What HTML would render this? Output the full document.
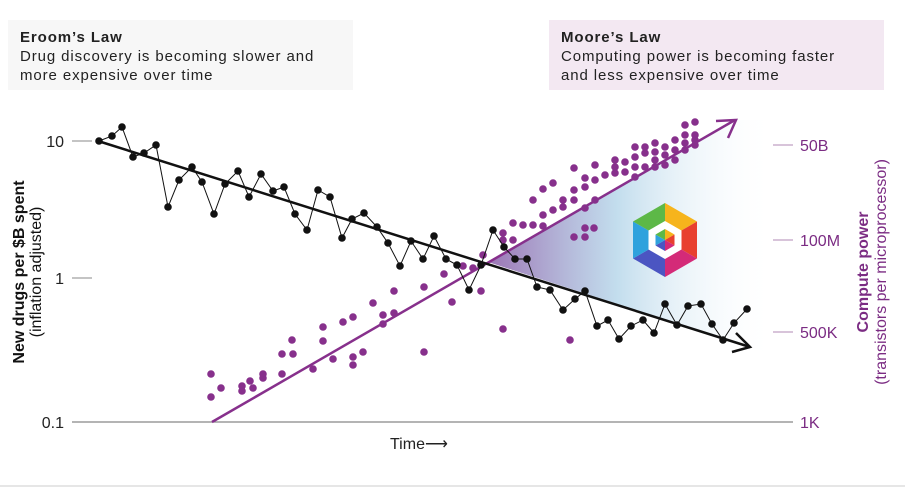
<!DOCTYPE html>
<html><head><meta charset="utf-8"><style>
body{margin:0;background:#fff;width:905px;height:487px;overflow:hidden;font-family:"Liberation Sans",sans-serif}
.box{position:absolute;top:20px;height:70px;box-sizing:border-box;padding:8px 12px;font-family:"Liberation Sans",sans-serif;font-size:15px;letter-spacing:0.9px;line-height:19px;color:#222}
.box b{display:block}
</style></head><body>
<div class="box" style="left:8px;width:345px;background:#f7f7f7"><b>Eroom’s Law</b>Drug discovery is becoming slower and<br>more expensive over time</div>
<div class="box" style="left:549px;width:335px;background:#f3e8f2"><b>Moore’s Law</b>Computing power is becoming faster<br>and less expensive over time</div>
<svg width="905" height="487" style="position:absolute;left:0;top:0" xmlns="http://www.w3.org/2000/svg">
<defs><linearGradient id="g" x1="488" y1="0" x2="775" y2="0" gradientUnits="userSpaceOnUse">
<stop offset="0" stop-color="#8a5ca8" stop-opacity="0.85"/><stop offset="0.45" stop-color="#a9cfe6" stop-opacity="0.7"/><stop offset="1" stop-color="#ffffff" stop-opacity="0"/></linearGradient></defs>
<polygon points="488,262 735,120 790,120 790,360 750,347" fill="url(#g)"/>
<line x1="72" y1="422" x2="793" y2="422" stroke="#888" stroke-width="1.2"/>
<g stroke="#888" stroke-width="1"><line x1="72" y1="141" x2="92" y2="141"/><line x1="72" y1="278" x2="92" y2="278"/></g>
<g stroke="#b08ab5" stroke-width="1"><line x1="773" y1="145" x2="793" y2="145"/><line x1="773" y1="240" x2="793" y2="240"/><line x1="773" y1="332" x2="793" y2="332"/></g>
<g font-size="16" fill="#222" text-anchor="end"><text x="64" y="147">10</text><text x="64" y="284">1</text><text x="64" y="428">0.1</text></g>
<g font-size="16" fill="#7b2c83"><text x="800" y="151">50B</text><text x="800" y="246">100M</text><text x="800" y="338">500K</text><text x="800" y="428">1K</text></g>
<text x="390" y="449" font-size="16" fill="#222">Time⟶</text>
<text transform="translate(24,272) rotate(-90)" text-anchor="middle" font-size="16" font-weight="bold" fill="#111">New drugs per $B spent</text>
<text transform="translate(41,272) rotate(-90)" text-anchor="middle" font-size="16" fill="#111">(inflation adjusted)</text>
<text transform="translate(868,272) rotate(-90)" text-anchor="middle" font-size="16" font-weight="bold" fill="#7b2c83">Compute power</text>
<text transform="translate(886,272) rotate(-90)" text-anchor="middle" font-size="16" fill="#7b2c83">(transistors per microprocessor)</text>
<g fill="#87308c">
<circle cx="211" cy="374" r="3.8"/><circle cx="211" cy="397" r="3.8"/><circle cx="221" cy="388" r="3.8"/><circle cx="242" cy="386" r="3.8"/><circle cx="242" cy="391" r="3.8"/><circle cx="250" cy="381" r="3.8"/><circle cx="253" cy="388" r="3.8"/><circle cx="263" cy="374" r="3.8"/><circle cx="263" cy="378" r="3.8"/><circle cx="282" cy="374" r="3.8"/><circle cx="282" cy="354" r="3.8"/><circle cx="292" cy="340" r="3.8"/><circle cx="293" cy="354" r="3.8"/><circle cx="313" cy="369" r="3.8"/><circle cx="323" cy="327" r="3.8"/><circle cx="323" cy="341" r="3.8"/><circle cx="333" cy="359" r="3.8"/><circle cx="343" cy="322" r="3.8"/><circle cx="353" cy="317" r="3.8"/><circle cx="353" cy="357" r="3.8"/><circle cx="353" cy="365" r="3.8"/><circle cx="363" cy="352" r="3.8"/><circle cx="373" cy="303" r="3.8"/><circle cx="383" cy="315" r="3.8"/><circle cx="383" cy="324" r="3.8"/><circle cx="394" cy="291" r="3.8"/><circle cx="394" cy="313" r="3.8"/><circle cx="424" cy="287" r="3.8"/><circle cx="424" cy="352" r="3.8"/><circle cx="444" cy="274" r="3.8"/>
<circle cx="452" cy="302" r="3.8"/><circle cx="463" cy="266" r="3.8"/><circle cx="473" cy="268" r="3.8"/><circle cx="483" cy="255" r="3.8"/><circle cx="481" cy="291" r="3.8"/><circle cx="503" cy="329" r="3.8"/><circle cx="503" cy="233" r="3.8"/><circle cx="503" cy="240" r="3.8"/><circle cx="513" cy="223" r="3.8"/><circle cx="513" cy="240" r="3.8"/><circle cx="523" cy="225" r="3.8"/><circle cx="533" cy="225" r="3.8"/><circle cx="543" cy="226" r="3.8"/><circle cx="533" cy="200" r="3.8"/><circle cx="543" cy="215" r="3.8"/><circle cx="553" cy="210" r="3.8"/><circle cx="543" cy="189" r="3.8"/><circle cx="553" cy="183" r="3.8"/><circle cx="563" cy="200" r="3.8"/><circle cx="563" cy="207" r="3.8"/><circle cx="574" cy="190" r="3.8"/><circle cx="574" cy="200" r="3.8"/><circle cx="574" cy="168" r="3.8"/><circle cx="574" cy="237" r="3.8"/><circle cx="585" cy="228" r="3.8"/><circle cx="585" cy="237" r="3.8"/><circle cx="594" cy="228" r="3.8"/><circle cx="585" cy="208" r="3.8"/><circle cx="585" cy="187" r="3.8"/><circle cx="585" cy="178" r="3.8"/><circle cx="595" cy="200" r="3.8"/><circle cx="595" cy="180" r="3.8"/><circle cx="595" cy="165" r="3.8"/><circle cx="605" cy="175" r="3.8"/><circle cx="615" cy="160" r="3.8"/><circle cx="615" cy="167" r="3.8"/><circle cx="615" cy="173" r="3.8"/><circle cx="625" cy="162" r="3.8"/><circle cx="625" cy="172" r="3.8"/><circle cx="635" cy="147" r="3.8"/><circle cx="635" cy="157" r="3.8"/><circle cx="635" cy="167" r="3.8"/><circle cx="635" cy="177" r="3.8"/><circle cx="645" cy="147" r="3.8"/><circle cx="645" cy="153" r="3.8"/><circle cx="645" cy="167" r="3.8"/><circle cx="655" cy="143" r="3.8"/><circle cx="655" cy="152" r="3.8"/><circle cx="655" cy="160" r="3.8"/><circle cx="655" cy="167" r="3.8"/><circle cx="665" cy="147" r="3.8"/><circle cx="665" cy="155" r="3.8"/><circle cx="665" cy="165" r="3.8"/><circle cx="675" cy="140" r="3.8"/><circle cx="675" cy="150" r="3.8"/><circle cx="675" cy="160" r="3.8"/><circle cx="685" cy="125" r="3.8"/><circle cx="685" cy="135" r="3.8"/><circle cx="685" cy="143" r="3.8"/><circle cx="685" cy="150" r="3.8"/><circle cx="695" cy="122" r="3.8"/><circle cx="695" cy="135" r="3.8"/><circle cx="695" cy="140" r="3.8"/><circle cx="695" cy="145" r="3.8"/><circle cx="570" cy="340" r="3.8"/>
</g>
<g stroke="#87308c" stroke-width="2.5" fill="none"><line x1="212" y1="422" x2="735" y2="120"/><polyline points="716,121 736,120 728,138"/></g>
<polyline fill="none" stroke="#111" stroke-width="1" points="99,141 112,136 122,127 133,157 144,153 156,145 168,207 179,180 192,167 202,182 214,214 225,184 238,171 249,197 261,174 273,191 284,187 295,214 307,230 318,190 330,197 342,238 352,219 364,213 377,227 388,243 400,266 411,241 423,259 434,236 446,259 457,265 469,290 481,265 493,230 504,247 515,259 527,259 537,287 550,290 563,310 575,299 585,291 597,326 608,320 619,339 631,326 643,320 654,333 665,304 677,325 688,306 701,304 712,324 723,340 734,323 747,309"/>
<g fill="#111">
<circle cx="99" cy="141" r="3.8"/><circle cx="112" cy="136" r="3.8"/><circle cx="122" cy="127" r="3.8"/><circle cx="133" cy="157" r="3.8"/><circle cx="144" cy="153" r="3.8"/><circle cx="156" cy="145" r="3.8"/><circle cx="168" cy="207" r="3.8"/><circle cx="179" cy="180" r="3.8"/><circle cx="192" cy="167" r="3.8"/><circle cx="202" cy="182" r="3.8"/><circle cx="214" cy="214" r="3.8"/><circle cx="225" cy="184" r="3.8"/><circle cx="238" cy="171" r="3.8"/><circle cx="249" cy="197" r="3.8"/><circle cx="261" cy="174" r="3.8"/><circle cx="273" cy="191" r="3.8"/><circle cx="284" cy="187" r="3.8"/><circle cx="295" cy="214" r="3.8"/><circle cx="307" cy="230" r="3.8"/><circle cx="318" cy="190" r="3.8"/><circle cx="330" cy="197" r="3.8"/><circle cx="342" cy="238" r="3.8"/><circle cx="352" cy="219" r="3.8"/><circle cx="364" cy="213" r="3.8"/><circle cx="377" cy="227" r="3.8"/><circle cx="388" cy="243" r="3.8"/><circle cx="400" cy="266" r="3.8"/><circle cx="411" cy="241" r="3.8"/><circle cx="423" cy="259" r="3.8"/><circle cx="434" cy="236" r="3.8"/><circle cx="446" cy="259" r="3.8"/><circle cx="457" cy="265" r="3.8"/><circle cx="469" cy="290" r="3.8"/><circle cx="481" cy="265" r="3.8"/><circle cx="493" cy="230" r="3.8"/><circle cx="504" cy="247" r="3.8"/><circle cx="515" cy="259" r="3.8"/><circle cx="527" cy="259" r="3.8"/><circle cx="537" cy="287" r="3.8"/><circle cx="550" cy="290" r="3.8"/><circle cx="563" cy="310" r="3.8"/><circle cx="575" cy="299" r="3.8"/><circle cx="585" cy="291" r="3.8"/><circle cx="597" cy="326" r="3.8"/><circle cx="608" cy="320" r="3.8"/><circle cx="619" cy="339" r="3.8"/><circle cx="631" cy="326" r="3.8"/><circle cx="643" cy="320" r="3.8"/><circle cx="654" cy="333" r="3.8"/><circle cx="665" cy="304" r="3.8"/><circle cx="677" cy="325" r="3.8"/><circle cx="688" cy="306" r="3.8"/><circle cx="701" cy="304" r="3.8"/><circle cx="712" cy="324" r="3.8"/><circle cx="723" cy="340" r="3.8"/><circle cx="734" cy="323" r="3.8"/><circle cx="747" cy="309" r="3.8"/>
</g>
<g stroke="#111" stroke-width="2.5" fill="none"><line x1="98" y1="141" x2="750" y2="347"/><polyline points="736,333 750,347 732,352"/></g>
<g transform="translate(665,240)">
<polygon points="0,0 0,-37 32,-18.5" fill="#f6b41c"/><polygon points="0,0 32,-18.5 32,18.5" fill="#e8402f"/><polygon points="0,0 32,18.5 0,37" fill="#d42a78"/><polygon points="0,0 0,37 -32,18.5" fill="#4b55c2"/><polygon points="0,0 -32,18.5 -32,-18.5" fill="#2fa2dd"/><polygon points="0,0 -32,-18.5 0,-37" fill="#5db847"/>
<polygon points="0,-19 16.5,-9.5 16.5,9.5 0,19 -16.5,9.5 -16.5,-9.5" fill="#fff"/>
<polygon points="0,0 0,-11 9.5,-5.5" fill="#f6b41c"/><polygon points="0,0 9.5,-5.5 9.5,5.5" fill="#e8402f"/><polygon points="0,0 9.5,5.5 0,11" fill="#d42a78"/><polygon points="0,0 0,11 -9.5,5.5" fill="#4b55c2"/><polygon points="0,0 -9.5,5.5 -9.5,-5.5" fill="#2fa2dd"/><polygon points="0,0 -9.5,-5.5 0,-11" fill="#5db847"/>
</g>
<line x1="0" y1="486" x2="905" y2="486" stroke="#ccc"/>
</svg>
</body></html>
